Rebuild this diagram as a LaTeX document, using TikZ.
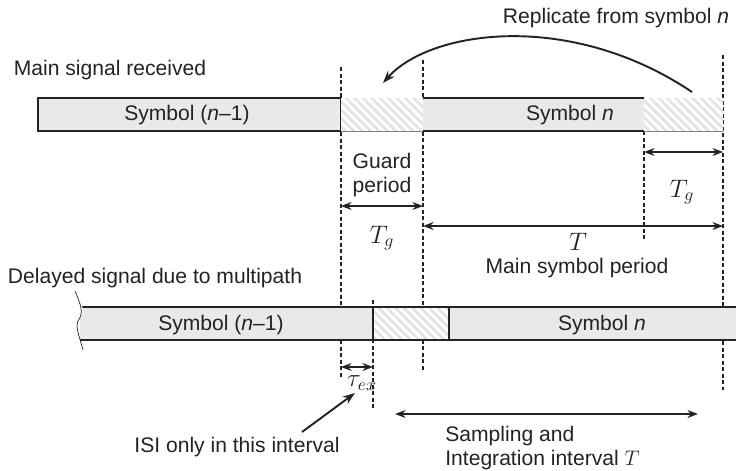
\documentclass[tikz,border=0pt]{standalone}
\usepackage{fontspec}
\setmainfont{Liberation Sans}
\usetikzlibrary{patterns.meta,arrows.meta}
\definecolor{fond}{RGB}{231,233,235}
\definecolor{trait}{RGB}{35,35,35}
\newcommand{\tiret}[3]{\draw[pointille] (#1,#2) -- (#1,#3)}
\newcommand{\hachure}[4]{\fill[white] (#1,#2) rectangle (#3,#4);
 	\fill[hach] (#1,#2) rectangle (#3,#4)}

\tikzset{
  bordure/.style={trait, line width=1pt},
  pointille/.style={trait, line width=0.9pt, dash pattern=on 2.4pt off 1.3pt},
  hach/.style={pattern={Lines[angle=-45, distance=3.4pt, line width=1.5pt]}, pattern color=gray!22},
  cote/.style={trait, line width=1.1pt, {Stealth[length=6pt,width=4.5pt]}-{Stealth[length=6pt,width=4.5pt]}},
  fleche/.style={trait, line width=1.1pt, -{Stealth[length=7pt,width=5pt]}},
  lbl/.style={font=\fontsize{12}{13.6}\selectfont, text=trait, inner sep=0pt},
  maths/.style={font=\fontsize{14}{16}\selectfont, text=trait, inner sep=0pt},
}

\begin{document}
\begin{tikzpicture}[x=0.02cm, y=-0.02cm]
	\useasboundingbox (0,0) rectangle (736,470);
	% dashed time marks
	\tiret{341}{67}{378};
	\tiret{423}{60}{372};
	\tiret{644}{131}{240};
	\tiret{723}{55}{390};
	\tiret{373}{300}{408};
	% main signal
	\draw[bordure, fill=fond] (38,98) rectangle (341,131);
	\hachure{341}{98}{423}{131};
	\draw[gray] (341,131) -- (423,131);
	\fill[fond] (423,98) rectangle (644,131);
	\draw[bordure] (423,98) -- (644,98);
	\draw[bordure] (423,131) -- (644,131);
	\hachure{644}{98}{723}{131};
	\draw[gray] (644,131) -- (723,131);
	% delayed signal
	\fill[fond] (80,307) rectangle (736,340);
	\hachure{373}{307}{449}{340};
	\draw[bordure] (80,307) -- (736,307);
	\draw[bordure] (80,340) -- (736,340);
	\draw[bordure] (373,307) -- (373,340);
	\draw[bordure] (449,307) -- (449,340);
	\fill[white] (70,300) -- (80,300) .. controls (84,312) .. (78,321)
		.. controls (75,327) and (80,338) .. (82,350) -- (70,350) -- cycle;
	\draw[trait, thin] (75,291) .. controls (81,305) and (84,313) .. (78,321)
		.. controls (75,327) and (80,338) .. (83,350);
	% labels
	\node[lbl] (recu) at (110,70) {Main signal received};
	\node[lbl] (prec) at (187,115) {Symbol (\textit{n}–1)};
	\node[lbl] (courant) at (570,115) {Symbol \textit{n}};
	\node[lbl] (repl) at (616,18) {Replicate from symbol \textit{n}};
	\node[lbl, align=center] (garde) at (382,175) {Guard\\period};
	\node[maths] (tg1) at (382,238) {$T_g$};
	\node[maths] (tg2) at (682,192) {$T_g$};
	\node[maths] (t) at (578,242) {$T$};
	\node[lbl] (periode) at (577,268) {Main symbol period};
	\node[lbl] (retard) at (155,278) {Delayed signal due to multipath};
	\node[lbl] (precb) at (221,325) {Symbol (\textit{n}–1)};
	\node[lbl] (courantb) at (602,325) {Symbol \textit{n}};
	\node[maths] (tau) at (362,383) {$\tau_{ex}$};
	\node[lbl] (isi) at (237,447) {ISI only in this interval};
	\node[lbl, align=left, anchor=north west] (echant) at (445,426) {Sampling and\\Integration interval $T$};
	% dimension arrows
	\coordinate (ga) at (341,206);
	\coordinate (gb) at (423,206);
	\coordinate (ra) at (644,152);
	\coordinate (rb) at (723,152);
	\coordinate (ta) at (423,226);
	\coordinate (tb) at (723,226);
	\coordinate (ea) at (341,367);
	\coordinate (eb) at (373,367);
	\coordinate (sa) at (395,414);
	\coordinate (sb) at (698,414);
	\draw[cote] (ga) -- (gb);
	\draw[cote] (ra) -- (rb);
	\draw[cote] (ta) -- (tb);
	\draw[cote] (ea) -- (eb);
	\draw[cote] (sa) -- (sb);
	% pointers
	\coordinate (isi0) at (302,432);
	\coordinate (isi1) at (355,393);
	\draw[fleche] (isi0) -- (isi1);
	\coordinate (rep0) at (692,92);
	\coordinate (rep1) at (383,83);
	\draw[fleche] (rep0) .. controls (570,10) and (430,30) .. (rep1);
\end{tikzpicture}
\end{document}
